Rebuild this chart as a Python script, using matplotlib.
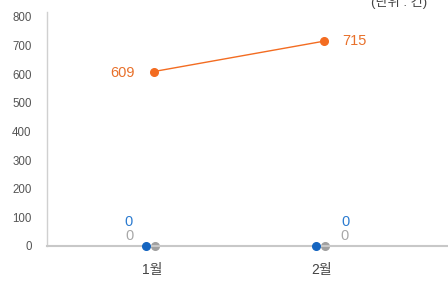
import matplotlib
matplotlib.use("Agg")
import matplotlib.pyplot as plt

months = ["1월", "2월"]
orange_vals = [609, 715]
blue_vals = [0, 0]
grey_vals = [0, 0]
yticks = [0, 100, 200, 300, 400, 500, 600, 700, 800]
unit_text = "(단위 : 건)"

FAM = ["Liberation Sans", "Noto Sans CJK KR", "DejaVu Sans"]
plt.rcParams["font.family"] = FAM

C_OR = "#F36C21"
C_OR_T = "#E8702A"
C_BL = "#1565C0"
C_BL_T = "#2B7BD0"
C_GR = "#A0A0A0"
C_GR_T = "#A8A8A8"

W, H = 448, 283
fig = plt.figure(figsize=(W / 100, H / 100), dpi=100)
left, right, top, bottom = 47, 448, 12, 246
ax = fig.add_axes([left / W, 1 - bottom / H, (right - left) / W, (bottom - top) / H])

x = list(range(len(months)))
ax.set_xlim(-105 / 170, (448 - 152) / 170)
ax.set_ylim(0, 817)

xo = [i + 0.01 for i in x]
xb = [i - 0.038 for i in x]
xg = [i + 0.02 for i in x]

ax.plot(xo, orange_vals, color=C_OR, lw=1.0, marker="o", ms=5.5, zorder=3, clip_on=False)
ax.plot(xb, blue_vals, ls="none", color=C_BL, marker="o", ms=5.5, zorder=3, clip_on=False)
ax.plot(xg, grey_vals, ls="none", color=C_GR, marker="o", ms=5.5, zorder=2, clip_on=False)

# labels
ax.annotate(str(orange_vals[0]), (xo[0], orange_vals[0]), xytext=(-14, -1), textcoords="offset points",
            ha="right", va="center", color=C_OR_T, fontsize=10.5)
ax.annotate(str(orange_vals[1]), (xo[1], orange_vals[1]), xytext=(13, 0), textcoords="offset points",
            ha="left", va="center", color=C_OR_T, fontsize=10.5)
for i, side in zip(x, [-1, 1]):
    ax.annotate(str(blue_vals[i]), (i, blue_vals[i]), xytext=(side * 17, 17), textcoords="offset points",
                ha="center", va="center", color=C_BL_T, fontsize=10.5)
    ax.annotate(str(grey_vals[i]), (i, grey_vals[i]), xytext=(side * 16, 7), textcoords="offset points",
                ha="center", va="center", color=C_GR_T, fontsize=10.5)

ax.set_yticks(yticks)
ax.set_yticklabels([str(v) for v in yticks], fontsize=8.3, color="#555555")
ax.set_xticks(x)
ax.set_xticklabels(months, fontsize=10, color="#444444")
ax.tick_params(axis="y", length=0, pad=11)
ax.tick_params(axis="x", length=0, pad=12)

for s in ["top", "right"]:
    ax.spines[s].set_visible(False)
ax.spines["left"].set_color("#D0D0D0")
ax.spines["left"].set_linewidth(1.0)
ax.spines["bottom"].set_color("#C8C8C8")
ax.spines["bottom"].set_linewidth(1.5)

fig.text(371 / W, 1 + 5 / H, unit_text, ha="left", va="top", fontsize=9.5, color="#444444")

fig.savefig("out.png", dpi=100)
